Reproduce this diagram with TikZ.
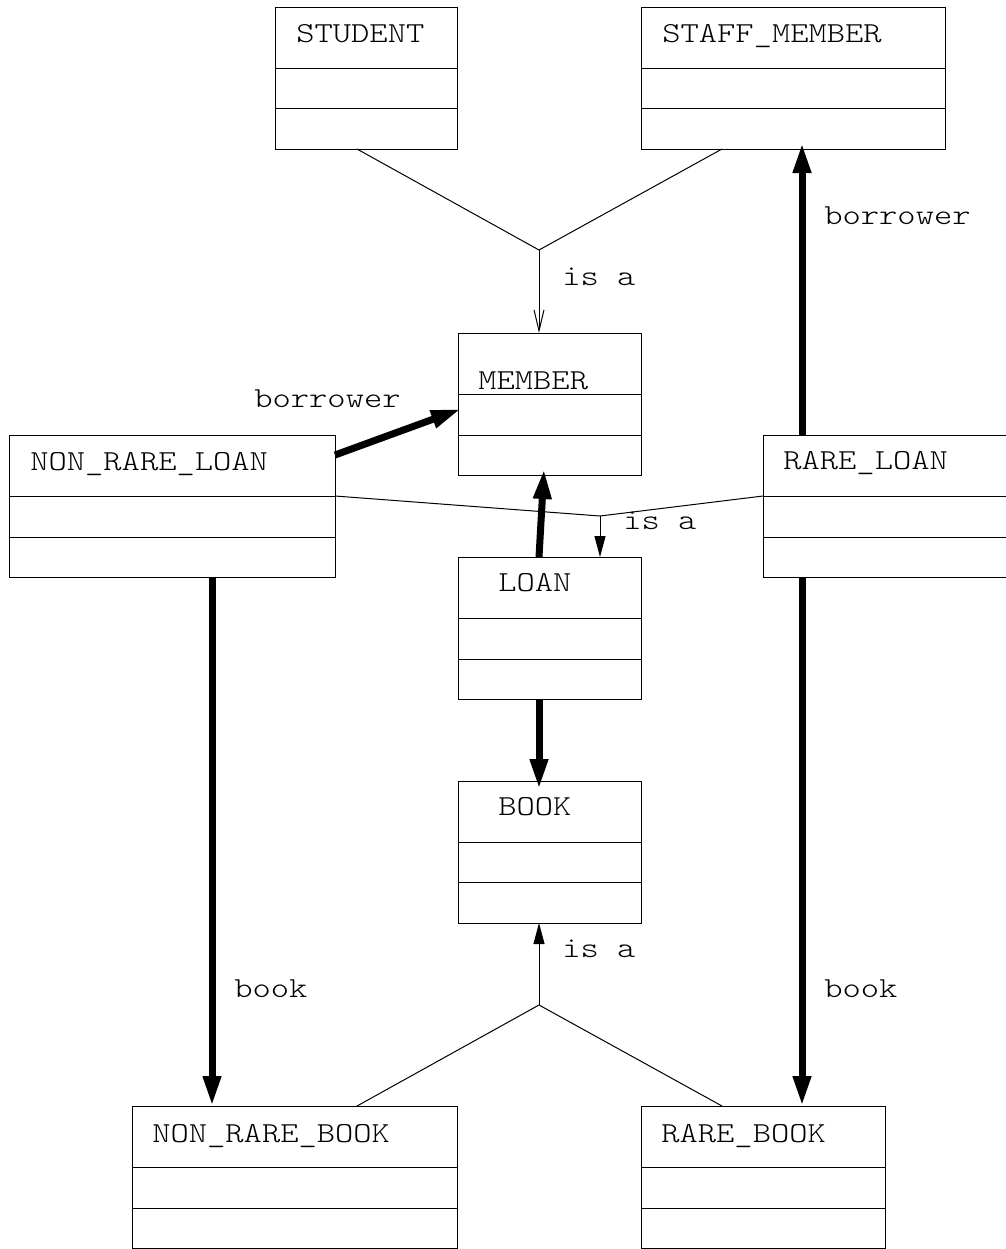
\documentclass[tikz,border=0pt]{standalone}
\usepackage{fontspec}
\newfontfamily\cour{lmmonolt10-regular.otf}[FakeStretch=1.2]
\usetikzlibrary{arrows.meta}
\newcommand{\classbox}[7]{%
  \node[cbox, minimum width={(#4-#2)*0.5pt}, minimum height={(#5-#3)*0.5pt}] (#1) at ({(#2+#4)/2},{(#3+#5)/2}) {};
  \draw[conn] (#2,#6) -- (#4,#6);
  \draw[conn] (#2,#7) -- (#4,#7);}
\begin{document}
\begin{tikzpicture}[x=0.5pt,y=-0.5pt,
  cbox/.style={draw, line width=0.5pt, inner sep=0pt, outer sep=0pt, rectangle},
  conn/.style={line width=0.5pt},
  title/.style={font=\cour\fontsize{14.5}{17}\selectfont, inner sep=0pt, anchor=base west},
  lbl/.style={title},
  heavy/.style={line width=3.5pt, -{Triangle[length=15pt,width=8.5pt]}},
  isaopen/.style={line width=0.5pt, -{Straight Barb[length=10.5pt,width=5pt,line width=0.5pt]}},
  isafill/.style={line width=0.5pt, -{Triangle[length=10.5pt,width=5.5pt]}}]
\useasboundingbox (0,0) rectangle (1006,1249);
% boxes
\classbox{student}{275}{7}{457}{149}{68}{108}
\classbox{staff}{641}{7}{945}{149}{68}{108}
\classbox{member}{458}{333}{641}{475}{394}{435}
\classbox{nrl}{9}{435}{335}{577}{496}{537}
\classbox{rl}{763}{435}{1012}{577}{496}{537}
\classbox{loan}{458}{557}{641}{699}{618}{659}
\classbox{book}{458}{781}{641}{923}{842}{882}
\classbox{nrb}{132}{1106}{457}{1248}{1167}{1208}
\classbox{rb}{641}{1106}{885}{1248}{1167}{1208}
% titles
\node[title] (studentT) at (296,42) {STUDENT};
\node[title] (staffT) at (662,42) {STAFF\_MEMBER};
\node[title] (memberT) at (478,389) {MEMBER};
\node[title] (nrlT) at (30,470) {NON\_RARE\_LOAN};
\node[title] (rlT) at (783,469) {RARE\_LOAN};
\node[title] (loanT) at (498,591) {LOAN};
\node[title] (bookT) at (498,815) {BOOK};
\node[title] (nrbT) at (152,1142) {NON\_RARE\_BOOK};
\node[title] (rbT) at (661,1142) {RARE\_BOOK};
% is-a top
\coordinate (j1) at (539,250);
\draw[conn] ([xshift=-4.5pt]student.south) -- (j1);
\draw[conn] ([xshift=-35.5pt]staff.south) -- (j1);
\draw[isaopen] (j1) -- (j1 |- member.north);
% is-a middle
\coordinate (j2) at (600,516);
\draw[conn] ([yshift=-30.5pt]nrl.north east) -- (j2);
\draw[conn] ([yshift=-30.5pt]rl.north west) -- (j2);
\draw[isafill] (j2) -- (j2 |- loan.north);
% is-a bottom
\coordinate (j3) at (539,1005);
\draw[conn] ([xshift=31.25pt]nrb.north) -- (j3);
\draw[conn] ([xshift=-20.5pt]rb.north) -- (j3);
\draw[isafill] (j3) -- (j3 |- book.south);
% heavy associations
\draw[heavy] ([yshift=-10pt]nrl.north east) -- ([xshift=1.5pt,yshift=-38pt]member.north west);
\draw[heavy] ([xshift=-5.25pt]loan.north) -- ([xshift=-2.75pt,yshift=3pt]member.south);
\draw[heavy, shorten >=-4pt] ([xshift=-5.25pt]loan.south) -- ([xshift=-5.25pt]book.north);
\coordinate (rlt) at ([xshift=19.5pt]rl.north west);
\draw[heavy, shorten >=-3pt] (rlt) -- (rlt |- staff.south);
\coordinate (rlb) at ([xshift=19.5pt]rl.south west);
\draw[heavy] (rlb) -- (rlb |- rb.north);
\coordinate (nrlb) at ([xshift=101.5pt]nrl.south west);
\draw[heavy] (nrlb) -- (nrlb |- nrb.north);
% labels
\node[lbl] (isa1) at (562,285) {is a};
\node[lbl] (isa2) at (623,529) {is a};
\node[lbl] (isa3) at (562,957) {is a};
\node[lbl] (bor1) at (254,407) {borrower};
\node[lbl] (bor2) at (824,224) {borrower};
\node[lbl] (bk1) at (234,997) {book};
\node[lbl] (bk2) at (824,997) {book};
\end{tikzpicture}
\end{document}
